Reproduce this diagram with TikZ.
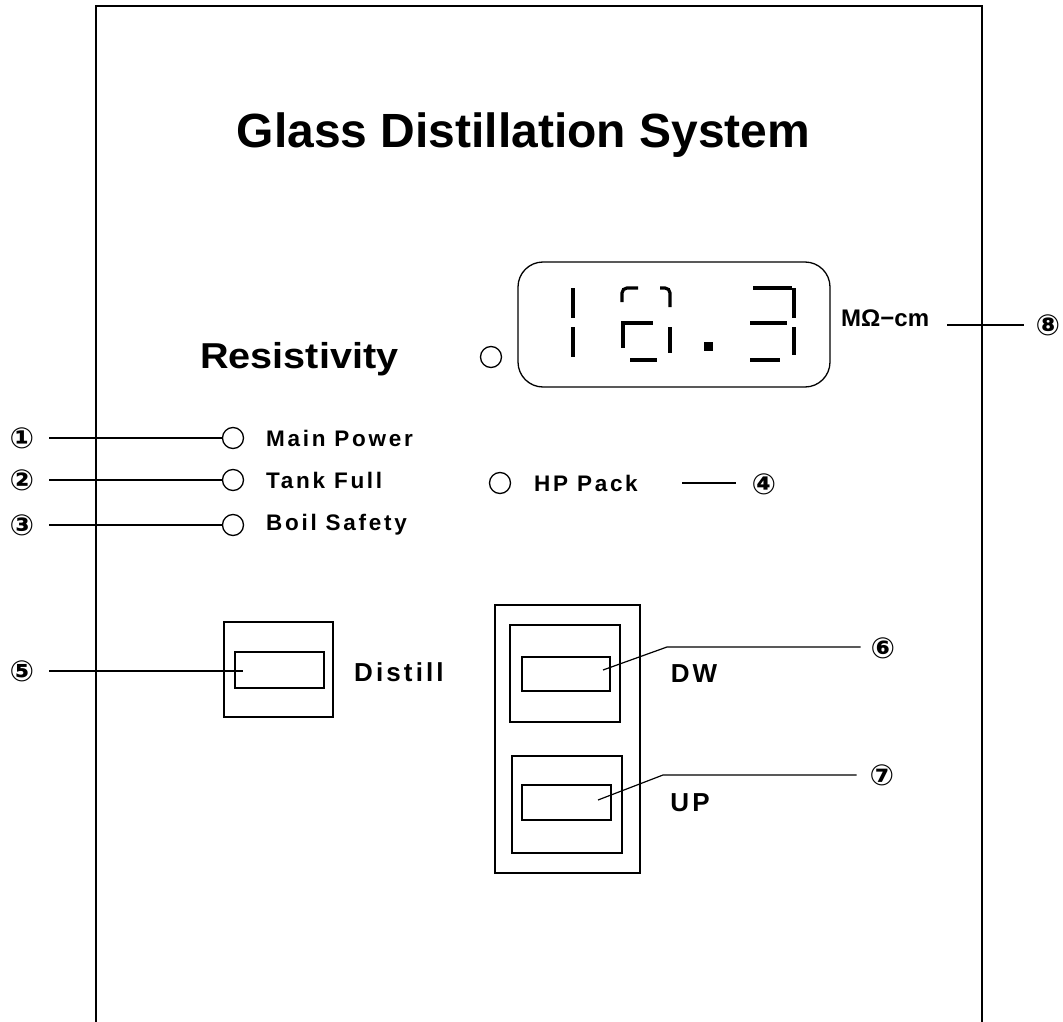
\documentclass[tikz,border=0pt]{standalone}
\usepackage{fontspec}
\setmainfont{Liberation Sans}
\newfontfamily\circfont{DejaVu Sans}
\newfontfamily\labfont[LetterSpace=12]{Liberation Sans}
\newfontfamily\widefont[FakeStretch=1.1]{Liberation Sans}
\begin{document}
\begin{tikzpicture}[x=1pt,y=-1pt,
  conn/.style={line width=1.2},
  boxline/.style={line width=1.6},
  seg/.style={line width=3.2},
  led/.style={circle,draw,line width=1.3,minimum size=21,inner sep=0},
  num/.style={font=\circfont\bfseries\fontsize{29}{32}\selectfont,inner sep=0},
  lab/.style={font=\labfont\bfseries\fontsize{22.5}{26}\selectfont,anchor=west,inner sep=0},
  biglab/.style={font=\labfont\bfseries\fontsize{26}{30}\selectfont,inner sep=0}]
\useasboundingbox (0,0) rectangle (1063,1022);
% panel outline
\draw[line width=1.8] (96,1022) -- (96,6) -- (982,6) -- (982,1022);
% title
\node[font=\bfseries\fontsize{48}{56}\selectfont,anchor=base,inner sep=0] (title) at (523.5,147) {Glass Distillation System};
% resistivity
\node[font=\widefont\bfseries\fontsize{36}{40}\selectfont,anchor=base west,inner sep=0] (res) at (200,368) {Resistivity};
\node[led] (ledr) at (491,357) {};
% display
\node[draw,rounded corners=25,line width=1.3,minimum width=312,minimum height=125,inner sep=0] (disp) at (674,324.5) {};
% digit 1
\draw[seg] (573,288) -- (573,318);
\draw[seg] (573,327) -- (573,357);
% digit 2
\draw[seg] (622,302) -- (622,293) to[out=90,in=180] (627,288) -- (638,288);
\draw[seg] (660,288) -- (665,288) to[out=0,in=90] (670,293) -- (670,307);
\draw[seg] (625,323) -- (653,323);
\draw[seg] (623,321) -- (623,348);
\draw[seg] (670,327) -- (670,353);
\draw[seg] (630,360) -- (657,360);
% decimal point
\fill (704,342) rectangle (713,351);
% digit 3
\draw[seg] (753,288) -- (792,288);
\draw[seg] (794,288) -- (794,318);
\draw[seg] (750,323) -- (787,323);
\draw[seg] (794,327) -- (794,355);
\draw[seg] (750,360) -- (780,360);
% unit and callout 8
\node[font=\bfseries\fontsize{24}{28}\selectfont,anchor=west,inner sep=0] (unit) at (841,318) {MΩ−cm};
\node[num] (n8) at (1048,325) {⑧};
\coordinate (u8) at (947,325);
\draw[conn] (u8) -- ([xshift=-12]n8.west);
% indicator lamps
\node[led] (led1) at (233,438) {};
\node[led] (led2) at (233,480) {};
\node[led] (led3) at (233,525) {};
\node[led] (led4) at (500,483) {};
\node[lab] (l1) at (266,438) {Main Power};
\node[lab] (l2) at (266,480) {Tank Full};
\node[lab] (l3) at (266,525) {Boil Safety};
\node[lab] (l4) at (534,483) {HP Pack};
\node[num] (n1) at (22,438) {①};
\node[num] (n2) at (22,480) {②};
\node[num] (n3) at (22,525) {③};
\node[num] (n4) at (764,484) {④};
\draw[conn] ([xshift=15]n1.east) -- (led1.west);
\draw[conn] ([xshift=15]n2.east) -- (led2.west);
\draw[conn] ([xshift=15]n3.east) -- (led3.west);
\coordinate (h4) at (682,483);
\draw[conn] (h4) -- ([xshift=-16]n4.west |- h4);
% distill switch
\draw[boxline] (224,622) rectangle (333,717);
\draw[boxline] (235,652) rectangle (324,688);
\coordinate (p5) at (243,671);
\node[num] (n5) at (22,671) {⑤};
\draw[conn] ([xshift=15]n5.east) -- (p5);
\node[biglab,anchor=west] (ldist) at (354,672) {Distill};
% DW / UP switches
\draw[boxline] (495,605) rectangle (640,873);
\draw[boxline] (510,625) rectangle (620,722);
\draw[boxline] (522,657) rectangle (610,691);
\draw[boxline] (512,756) rectangle (622,853);
\draw[boxline] (522,785) rectangle (611,820);
\coordinate (p6) at (603,670);
\coordinate (p7) at (598,800);
\node[num] (n6) at (883,648) {⑥};
\node[num] (n7) at (882,775) {⑦};
\draw[conn] (p6) -- (667,647) -- ([xshift=-10]n6.west |- 0,647);
\draw[conn] (p7) -- (663,775) -- ([xshift=-13]n7.west |- 0,775);
\node[biglab] (ldw) at (694,674) {DW};
\node[biglab] (lup) at (690,803) {UP};
\end{tikzpicture}
\end{document}
